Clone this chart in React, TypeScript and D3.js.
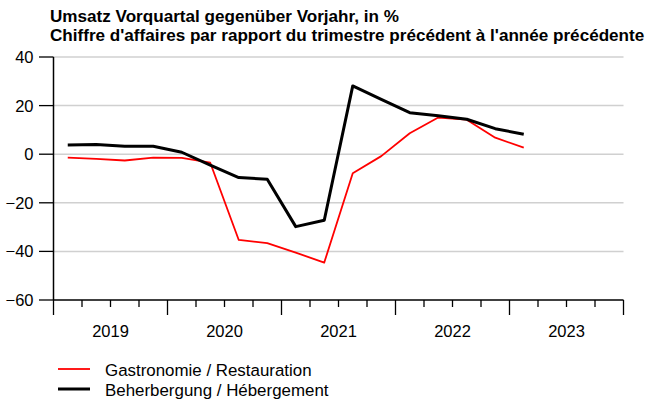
import React from "react";
import * as d3 from "d3";

const quarters = [
  "2019Q1","2019Q2","2019Q3","2019Q4",
  "2020Q1","2020Q2","2020Q3","2020Q4",
  "2021Q1","2021Q2","2021Q3","2021Q4",
  "2022Q1","2022Q2","2022Q3","2022Q4",
  "2023Q1",
];
const gastronomie = [-1.4,-1.9,-2.6,-1.4,-1.5,-3.5,-35.3,-36.6,-40.5,-44.6,-7.8,-0.8,8.6,15.1,14.2,6.8,2.7];
const beherbergung = [3.8,4.0,3.3,3.3,0.8,-4.5,-9.6,-10.3,-29.8,-27.2,28.1,22.6,17.1,15.8,14.4,10.5,8.2];
const years = [2019, 2020, 2021, 2022, 2023];
const yTicks = [40, 20, 0, -20, -40, -60];
const titleLines = [
  "Umsatz Vorquartal gegenüber Vorjahr, in %",
  "Chiffre d'affaires par rapport du trimestre précédent à l'année précédente",
];
const seriesNames = ["Gastronomie / Restauration", "Beherbergung / Hébergement"];

const W = 646, H = 405;
const left = 53.5, right = 623.5, top = 57, bottom = 300;
const font = "Liberation Sans, Arial, sans-serif";

export default function App() {
  const x = d3.scaleLinear().domain([2019, 2024]).range([left, right]);
  const y = d3.scaleLinear().domain([-60, 40]).range([bottom, top]);
  const qx = (i: number) => x(2019 + (i + 0.5) / 4);
  const line = d3.line<number>().x((_, i) => qx(i)).y((v) => y(v));
  const quarterBounds = d3.range(0, years.length * 4 + 1).map((i) => 2019 + i / 4);

  return (
    <svg width={W} height={H} style={{ position: "absolute", left: 0, top: 0 }} fontFamily={font}>
      <rect width={W} height={H} fill="#fff" />
      {titleLines.map((t, i) => (
        <text key={i} x={50} y={21.5 + i * 19} fontSize={17.1} fontWeight="bold" fill="#000">{t}</text>
      ))}
      {yTicks.filter((v) => v !== -60).map((v) => (
        <line key={v} x1={left} x2={right} y1={y(v)} y2={y(v)} stroke="#d0d0d0" strokeWidth={1.5} />
      ))}
      {yTicks.map((v) => (
        <g key={v}>
          <line x1={39} x2={left} y1={y(v)} y2={y(v)} stroke="#000" strokeWidth={1.3} />
          <text x={33.5} y={y(v)} dy="0.36em" textAnchor="end" fontSize={16.5} fill="#000">
            {v < 0 ? "\u2212" + Math.abs(v) : String(v)}
          </text>
        </g>
      ))}
      <line x1={left} x2={left} y1={top} y2={bottom} stroke="#000" strokeWidth={1.5} />
      <line x1={left} x2={right} y1={bottom} y2={bottom} stroke="#000" strokeWidth={1.5} />
      {quarterBounds.map((q, i) => (
        <line key={i} x1={x(q)} x2={x(q)} y1={bottom} y2={i % 4 === 0 ? 315 : 307} stroke="#000" strokeWidth={1.3} />
      ))}
      {years.map((yr) => (
        <text key={yr} x={x(yr + 0.5)} y={337} textAnchor="middle" fontSize={16.5} fill="#000">{yr}</text>
      ))}
      <path d={line(gastronomie) || ""} fill="none" stroke="#ff0000" strokeWidth={1.8} strokeLinejoin="round" />
      <path d={line(beherbergung) || ""} fill="none" stroke="#000" strokeWidth={3} strokeLinejoin="round" />
      {seriesNames.map((n, i) => (
        <g key={n}>
          <line x1={58} x2={90} y1={369 + i * 20} y2={369 + i * 20} stroke={i === 0 ? "#ff0000" : "#000"} strokeWidth={i === 0 ? 1.8 : 3} />
          <text x={105} y={369.5 + i * 20.5} dy="0.36em" fontSize={16.9} fill="#000">{n}</text>
        </g>
      ))}
    </svg>
  );
}
